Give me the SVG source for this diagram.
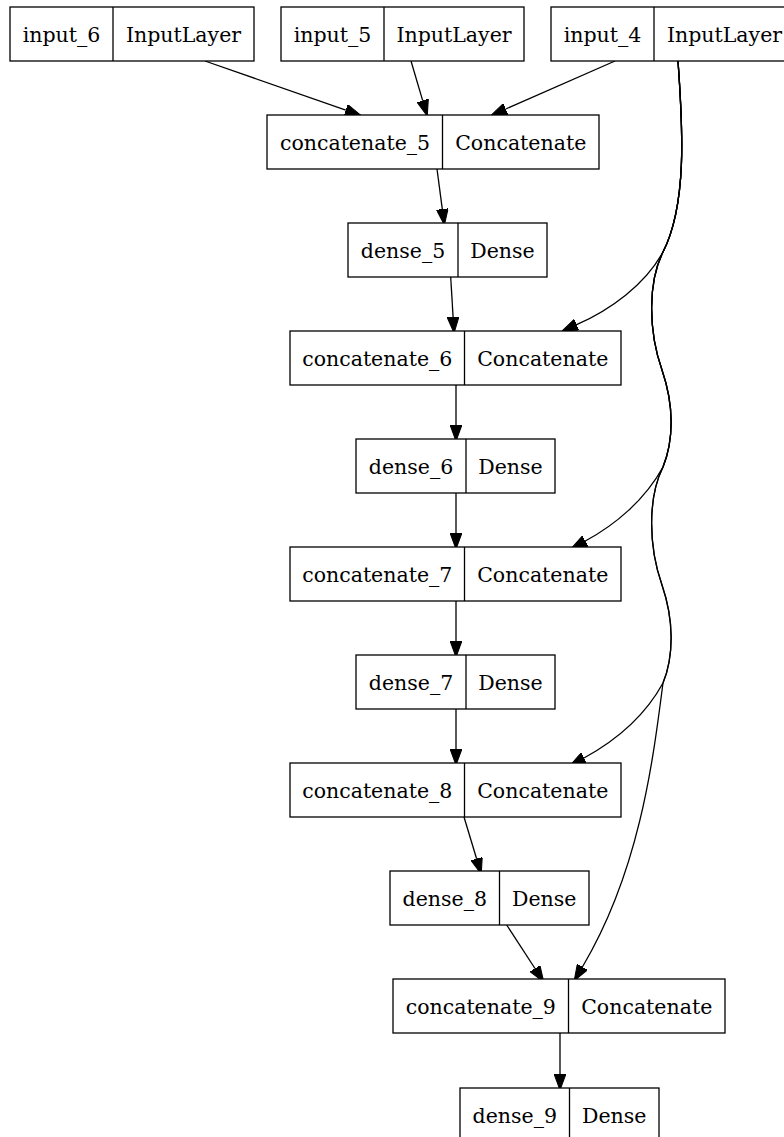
<svg xmlns="http://www.w3.org/2000/svg" width="784" height="1137" viewBox="0 0 784 1137">
<style>
.box{fill:#fff;stroke:#000;stroke-width:1.3}
.div{stroke:#000;stroke-width:1.3}
text{font-family:"DejaVu Serif",serif;font-size:20.5px;fill:#000;text-anchor:middle}
.e{fill:none;stroke:#000;stroke-width:1.3;marker-end:url(#ah)}
</style>
<defs>
<marker id="ah" markerUnits="userSpaceOnUse" markerWidth="16" markerHeight="12" refX="0" refY="5.5" orient="auto" viewBox="0 0 15 11">
<path d="M0,0 L15,5.5 L0,11 Z" fill="#000" stroke="#000" stroke-width="1"/>
</marker>
</defs>
<rect width="784" height="1137" fill="#fff"/>
<g id="connectors">
<path class="e" d="M205,61 L345.8,110.1"/>
<path class="e" d="M411,61 L422.7,100.6"/>
<path class="e" d="M615,61 L505.7,109"/>
<path class="e" d="M437,169 L442.3,209.1"/>
<path class="e" d="M450.7,277 L453.1,317"/>
<path class="e" d="M456,385 L456,425"/>
<path class="e" d="M456,493 L456,533"/>
<path class="e" d="M456,601 L456,641"/>
<path class="e" d="M456,709 L456,749"/>
<path class="e" d="M464,817 L476.6,858.7"/>
<path class="e" d="M506.7,925 L535,968.5"/>
<path class="e" d="M560,1033 L560,1074"/>
<path class="e" d="M678,61 C683,130 687,205 663,252 C645,285 610,310 576.6,324.7"/>
<path class="e" d="M678,61 C683,130 687,205 663,252 C648,282 648,330 662,370 C674,405 674,440 663,467 C645,500 615,525 585.3,541"/>
<path class="e" d="M678,61 C683,130 687,205 663,252 C648,282 648,330 662,370 C674,405 674,440 663,467 C648,497 648,545 662,585 C674,620 674,656 663,683 C645,716 615,741 584,758"/>
<path class="e" d="M678,61 C683,130 687,205 663,252 C648,282 648,330 662,370 C674,405 674,440 663,467 C648,497 648,545 662,585 C674,620 674,656 663,683 C653,760 640,870 582.4,967"/>
</g>
<g id="input_6"><rect class="box" x="10" y="7" width="244" height="54"/><line class="div" x1="113" y1="7" x2="113" y2="61"/><text x="61.5" y="42">input_6</text><text x="183.5" y="42">InputLayer</text></g>
<g id="input_5"><rect class="box" x="281" y="7" width="243" height="54"/><line class="div" x1="384" y1="7" x2="384" y2="61"/><text x="332.5" y="42">input_5</text><text x="454" y="42">InputLayer</text></g>
<g id="input_4"><rect class="box" x="551" y="7" width="244" height="54"/><line class="div" x1="654" y1="7" x2="654" y2="61"/><text x="602.5" y="42">input_4</text><text x="724.5" y="42">InputLayer</text></g>
<g id="concatenate_5"><rect class="box" x="267" y="115" width="332" height="54"/><line class="div" x1="442.5" y1="115" x2="442.5" y2="169"/><text x="355" y="150">concatenate_5</text><text x="520.75" y="150">Concatenate</text></g>
<g id="dense_5"><rect class="box" x="348" y="223" width="199" height="54"/><line class="div" x1="458" y1="223" x2="458" y2="277"/><text x="403" y="258">dense_5</text><text x="502.5" y="258">Dense</text></g>
<g id="concatenate_6"><rect class="box" x="290" y="331" width="331" height="54"/><line class="div" x1="464.5" y1="331" x2="464.5" y2="385"/><text x="377.25" y="366">concatenate_6</text><text x="542.75" y="366">Concatenate</text></g>
<g id="dense_6"><rect class="box" x="356" y="439" width="199" height="54"/><line class="div" x1="466" y1="439" x2="466" y2="493"/><text x="411" y="474">dense_6</text><text x="510.5" y="474">Dense</text></g>
<g id="concatenate_7"><rect class="box" x="290" y="547" width="331" height="54"/><line class="div" x1="464.5" y1="547" x2="464.5" y2="601"/><text x="377.25" y="582">concatenate_7</text><text x="542.75" y="582">Concatenate</text></g>
<g id="dense_7"><rect class="box" x="356" y="655" width="199" height="54"/><line class="div" x1="466" y1="655" x2="466" y2="709"/><text x="411" y="690">dense_7</text><text x="510.5" y="690">Dense</text></g>
<g id="concatenate_8"><rect class="box" x="290" y="763" width="331" height="54"/><line class="div" x1="464.5" y1="763" x2="464.5" y2="817"/><text x="377.25" y="798">concatenate_8</text><text x="542.75" y="798">Concatenate</text></g>
<g id="dense_8"><rect class="box" x="390" y="871" width="199" height="54"/><line class="div" x1="499.5" y1="871" x2="499.5" y2="925"/><text x="444.75" y="906">dense_8</text><text x="544.25" y="906">Dense</text></g>
<g id="concatenate_9"><rect class="box" x="393" y="979" width="332" height="54"/><line class="div" x1="568.5" y1="979" x2="568.5" y2="1033"/><text x="480.75" y="1014">concatenate_9</text><text x="646.75" y="1014">Concatenate</text></g>
<g id="dense_9"><rect class="box" x="460" y="1088" width="199" height="54"/><line class="div" x1="569.5" y1="1088" x2="569.5" y2="1142"/><text x="514.75" y="1123">dense_9</text><text x="614.25" y="1123">Dense</text></g>
</svg>
